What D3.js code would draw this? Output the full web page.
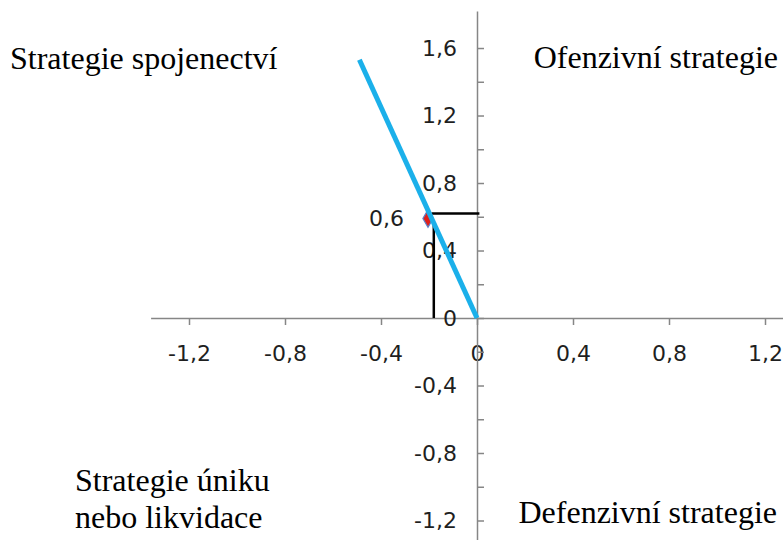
<!DOCTYPE html>
<html>
<head>
<meta charset="utf-8">
<script src="https://cdn.jsdelivr.net/npm/d3@7"></script>
<style>
  body { margin: 0; background: #fff; }
  svg { display: block; }
  .axis path, .axis line { stroke: #868686; stroke-width: 1.5; }
  .axis text { font-family: "DejaVu Sans", sans-serif; font-size: 22px; fill: #1f1f1f; }
  .quad { font-family: "Liberation Serif", "Times New Roman", serif; font-size: 32px; fill: #000; }
</style>
</head>
<body>
<svg width="783" height="540"></svg>
<script>
// strategic position (quadrant) chart
var xTicks = [-1.2, -0.8, -0.4, 0, 0.4, 0.8, 1.2];
var yTicks = [-1.2, -1.0, -0.8, -0.6, -0.4, -0.2, 0, 0.2, 0.4, 0.6, 0.8, 1.0, 1.2, 1.4, 1.6];
var yLabels = [-1.2, -0.8, -0.4, 0, 0.4, 0.8, 1.2, 1.6];

// blue vector from origin
var vectorX = [0, -0.49];
var vectorY = [0, 1.53];

// result point and its label
var pointX = [-0.2];
var pointY = [0.59];
var pointLabel = ["0,6"];

// black guide lines
var guideV = { x: -0.18, y0: 0, y1: 0.55 };
var guideH = { y: 0.62, x0: -0.19, x1: 0.01 };

var quadrants = [
    { lines: ["Strategie spojenectví"], x: 10, y: 69, anchor: "start" },
    { lines: ["Ofenzivní strategie"], x: 778, y: 68, anchor: "end" },
    { lines: ["Strategie úniku", "nebo likvidace"], x: 75, y: 491, anchor: "start" },
    { lines: ["Defenzivní strategie"], x: 777, y: 523, anchor: "end" }
];

var svg = d3.select("svg"),
    width = +svg.attr("width"),
    height = +svg.attr("height");

var x = d3.scaleLinear().domain([-1.36, 1.28]).range([150.6, 784.2]);
var y = d3.scaleLinear().domain([-1.32, 1.82]).range([540.75, 10.9]);

var loc = d3.formatLocale({ decimal: ",", thousands: " ", grouping: [3], currency: ["", ""], minus: "-" });
var fmt = function (d) {
    return Math.abs(d) < 1e-9 ? "0" : loc.format(".1f")(d);
};

// x axis
svg.append("g")
    .attr("class", "axis")
    .attr("transform", "translate(0," + y(0) + ")")
    .call(d3.axisBottom(x).tickValues(xTicks).tickSize(7).tickSizeOuter(0).tickPadding(20).tickFormat(fmt));

// y axis ticks (right side)
svg.append("g")
    .attr("class", "axis")
    .attr("transform", "translate(" + x(0) + ",0)")
    .call(d3.axisRight(y).tickValues(yTicks).tickSize(7).tickSizeOuter(0).tickFormat(""));

// y labels (left side)
var yl = svg.append("g")
    .attr("class", "axis")
    .attr("transform", "translate(" + x(0) + ",0)")
    .call(d3.axisLeft(y).tickValues(yLabels).tickSize(0).tickPadding(20).tickFormat(fmt));
yl.select(".domain").remove();

// quadrant labels
quadrants.forEach(function (q) {
    var t = svg.append("text")
        .attr("class", "quad")
        .attr("x", q.x)
        .attr("y", q.y)
        .attr("text-anchor", q.anchor);
    q.lines.forEach(function (l, i) {
        t.append("tspan").attr("x", q.x).attr("dy", i === 0 ? 0 : 37).text(l);
    });
});

// guide lines
svg.append("line")
    .attr("x1", x(guideV.x)).attr("x2", x(guideV.x))
    .attr("y1", y(guideV.y0)).attr("y2", y(guideV.y1))
    .attr("stroke", "#000").attr("stroke-width", 2.5);
svg.append("line")
    .attr("x1", x(guideH.x0)).attr("x2", x(guideH.x1))
    .attr("y1", y(guideH.y)).attr("y2", y(guideH.y))
    .attr("stroke", "#000").attr("stroke-width", 2.5);

// point marker
var pts = pointX.map(function (d, i) { return { x: d, y: pointY[i], label: pointLabel[i] }; });
svg.selectAll(".pt")
    .data(pts)
    .enter().append("path")
    .attr("class", "pt")
    .attr("d", d3.symbol().type(d3.symbolDiamond).size(90))
    .attr("transform", function (d) { return "translate(" + (x(d.x) - 1) + "," + y(d.y) + ")"; })
    .attr("fill", "#e0201b")
    .attr("stroke", "#5b7fc8")
    .attr("stroke-width", 1.2);

svg.selectAll(".ptlabel")
    .data(pts)
    .enter().append("text")
    .attr("class", "ptlabel")
    .attr("x", function (d) { return x(d.x) - 25; })
    .attr("y", function (d) { return y(d.y); })
    .attr("dy", "0.35em")
    .attr("text-anchor", "end")
    .style("font-family", "DejaVu Sans, sans-serif")
    .style("font-size", "22px")
    .style("fill", "#1f1f1f")
    .text(function (d) { return d.label; });

// blue vector
var vec = vectorX.map(function (d, i) { return [d, vectorY[i]]; });
svg.append("path")
    .datum(vec)
    .attr("fill", "none")
    .attr("stroke", "#1bb0ea")
    .attr("stroke-width", 5)
    .attr("d", d3.line().x(function (d) { return x(d[0]); }).y(function (d) { return y(d[1]); }));
</script>
</body>
</html>
